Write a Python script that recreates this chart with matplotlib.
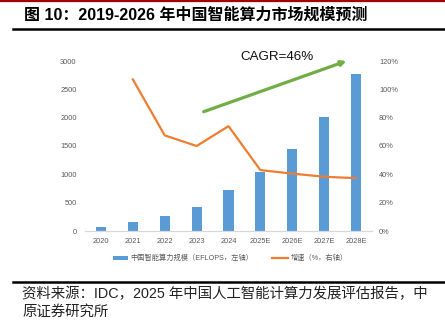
import matplotlib

matplotlib.use("Agg")
import matplotlib.pyplot as plt
from matplotlib.lines import Line2D
from matplotlib.patches import Patch
from matplotlib.ticker import FuncFormatter

years = ["2020", "2021", "2022", "2023", "2024", "2025E", "2026E", "2027E", "2028E"]
compute_eflops = [75, 155, 260, 425, 725, 1037, 1447, 2010, 2770]
growth_years = ["2021", "2022", "2023", "2024", "2025E", "2026E", "2027E", "2028E"]
growth_pct = [107, 67.5, 60, 74, 43, 40.5, 38.3, 37.3]

left_ticks = [0, 500, 1000, 1500, 2000, 2500, 3000]
right_ticks = [0, 20, 40, 60, 80, 100, 120]

title = "图 10：2019-2026 年中国智能算力市场规模预测"
source_lines = ["资料来源：IDC，2025 年中国人工智能计算力发展评估报告，中", "原证券研究所"]
legend_labels = ["中国智能算力规模（EFLOPS，左轴）", "增速（%，右轴）"]
cagr_label = "CAGR=46%"

BLUE = "#5b9bd5"
ORANGE = "#ed7d31"
GREEN = "#70ad47"
GREY = "#595959"
LATIN_CJK = ["Liberation Sans", "Noto Sans CJK SC"]

plt.rcParams["font.family"] = LATIN_CJK

W, H = 445, 324
fig = plt.figure(figsize=(W / 100, H / 100), dpi=100)

# page furniture: red rule on top, black rules under the title and above the source
fig.add_artist(Line2D([0, 1], [1 - 0.8 / H, 1 - 0.8 / H], color="#a50000", lw=1.6))
fig.add_artist(Line2D([13 / W, 1], [1 - 28.5 / H, 1 - 28.5 / H], color="black", lw=1.8))
fig.add_artist(Line2D([13 / W, 1], [1 - 281.5 / H, 1 - 281.5 / H], color="black", lw=1.8))

fig.text(24 / W, 1 - 14.5 / H, title, fontsize=11.5, fontweight="bold", va="center", ha="left")
fig.text(22 / W, 1 - 294 / H, source_lines[0], fontsize=10.4, va="center", ha="left", color="#222222")
fig.text(22 / W, 1 - 312 / H, source_lines[1], fontsize=10.4, va="center", ha="left", color="#222222")

ax = fig.add_axes([85 / W, 1 - 231 / H, 287 / W, 170 / H])
x = list(range(len(years)))
ax.bar(x, compute_eflops, width=0.32, color=BLUE, zorder=2)
ax.set_xlim(-0.5, len(years) - 0.5)
ax.set_ylim(0, 3000)
ax.set_yticks(left_ticks)
ax.set_xticks(x)
ax.set_xticklabels(years)

ax2 = ax.twinx()
gx = [years.index(y) for y in growth_years]
ax2.plot(gx, growth_pct, color=ORANGE, lw=1.6, zorder=3)
ax2.set_ylim(0, 120)
ax2.set_yticks(right_ticks)
ax2.yaxis.set_major_formatter(FuncFormatter(lambda v, _: f"{v:.0f}%"))

for a in (ax, ax2):
    for side in ("top", "left", "right"):
        a.spines[side].set_visible(False)
    a.spines["bottom"].set_color("#d9d9d9")
    a.tick_params(length=0, labelsize=5.3, labelcolor=GREY)
ax.tick_params(axis="y", pad=6)
ax.tick_params(axis="x", pad=5)
ax2.tick_params(axis="y", pad=5)

# CAGR trend arrow
ax.annotate(
    "",
    xy=(7.7, 3000),
    xytext=(3.22, 2105),
    arrowprops=dict(arrowstyle="-|>", color=GREEN, lw=2.3, mutation_scale=7, shrinkA=0, shrinkB=0),
    annotation_clip=False,
    zorder=4,
)
fig.text(240 / W, 1 - 56.5 / H, cagr_label, fontsize=9.6, va="center", ha="left", color="#111111")

handles = [
    Patch(facecolor=BLUE, edgecolor="none"),
    Line2D([0], [0], color=ORANGE, lw=1.6),
]
fig.legend(
    handles,
    legend_labels,
    loc="center",
    bbox_to_anchor=(230 / W, 1 - 258.5 / H),
    ncol=2,
    frameon=False,
    fontsize=5.2,
    labelcolor=GREY,
    handlelength=2.2,
    handleheight=0.55,
    columnspacing=2.6,
    handletextpad=0.3,
)

fig.savefig("out.png", dpi=100)
